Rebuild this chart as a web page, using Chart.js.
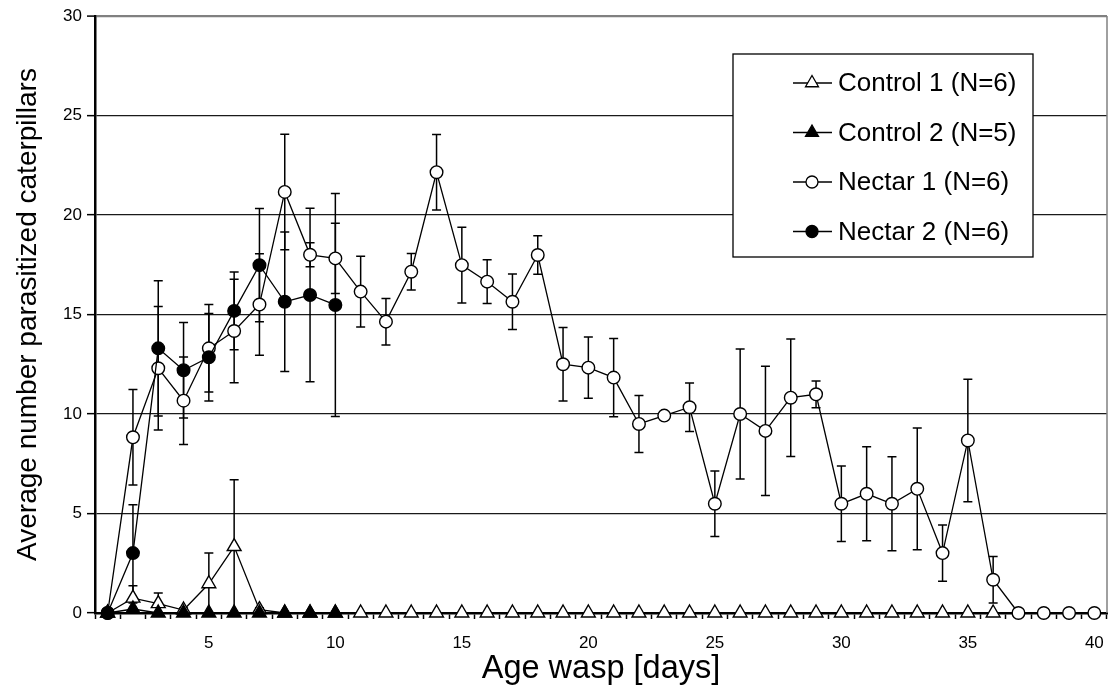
<!DOCTYPE html>
<html>
<head>
<meta charset="utf-8">
<script src="https://cdn.jsdelivr.net/npm/chart.js@4.4.1/dist/chart.umd.min.js"></script>
<style>
  html, body { margin: 0; padding: 0; background: #fff; }
  #wrap { width: 1109px; height: 693px; position: relative; }
</style>
</head>
<body>
<div id="wrap"><canvas id="myChart" width="1109" height="693"></canvas></div>
<script>
// x categories (age in days) and which ones get a label
const days = [1, 2, 3, 4, 5, 6, 7, 8, 9, 10, 11, 12, 13, 14, 15, 16, 17, 18, 19, 20,
  21, 22, 23, 24, 25, 26, 27, 28, 29, 30, 31, 32, 33, 34, 35, 36, 37, 38, 39, 40];
const xTickDays = [5, 10, 15, 20, 25, 30, 35, 40];

const seriesNames = ["Control 1 (N=6)", "Control 2 (N=5)", "Nectar 1 (N=6)", "Nectar 2 (N=6)"];

// means
const control1 = [0, 0.75, 0.47, 0.15, 1.47, 3.34, 0.17, 0, 0, 0, 0, 0, 0, 0, 0, 0, 0, 0, 0, 0,
  0, 0, 0, 0, 0, 0, 0, 0, 0, 0, 0, 0, 0, 0, 0, 0];
const control2 = [0, 0.2, 0, 0, 0, 0, 0, 0, 0, 0];
const nectar1 = [0, 8.83, 12.3, 10.67, 13.3, 14.17, 15.5, 21.16, 18.0, 17.82,
  16.15, 14.64, 17.15, 22.15, 17.48, 16.65, 15.64, 17.99, 12.5, 12.33,
  11.83, 9.5, 9.92, 10.34, 5.49, 10.0, 9.15, 10.82, 10.99, 5.49,
  5.99, 5.49, 6.24, 3.01, 8.67, 1.67, 0, 0, 0, 0];
const nectar2 = [0, 3.01, 13.3, 12.2, 12.85, 15.18, 17.48, 15.64, 15.98, 15.48];

// error bar half lengths
const control1Err = [0, 0.62, 0.53, 0.1, 1.54, 3.35, 0.1, 0, 0, 0, 0, 0, 0, 0, 0, 0, 0, 0, 0, 0,
  0, 0, 0, 0, 0, 0, 0, 0, 0, 0, 0, 0, 0, 0, 0, 0];
const control2Err = [0, 0.3, 0, 0, 0, 0, 0, 0, 0, 0];
const nectar1Err = [0, 2.4, 3.1, 2.2, 2.2, 2.6, 2.55, 2.9, 0.6, 1.76,
  1.78, 1.17, 0.92, 1.9, 1.9, 1.1, 1.4, 0.97, 1.85, 1.54,
  1.97, 1.43, 0, 1.22, 1.64, 3.27, 3.25, 2.95, 0.67, 1.9,
  2.36, 2.36, 3.06, 1.41, 3.08, 1.17, 0, 0, 0, 0];
const nectar2Err = [0, 2.43, 3.4, 2.4, 2.2, 1.95, 2.85, 3.5, 4.36, 5.6];

const FONT = "'Liberation Sans', Arial, sans-serif";

function marker(ctx, style, filled, x, y, r) {
  ctx.beginPath();
  if (style === "triangle") {
    ctx.moveTo(x, y - r);
    ctx.lineTo(x + r * 0.866, y + r * 0.5);
    ctx.lineTo(x - r * 0.866, y + r * 0.5);
    ctx.closePath();
  } else {
    ctx.arc(x, y, r, 0, Math.PI * 2);
  }
  ctx.fillStyle = filled ? "#000" : "#fff";
  ctx.fill();
  ctx.stroke();
}

// error bars under the markers
const errorBars = {
  id: "errorBars",
  beforeDatasetsDraw(chart) {
    const ctx = chart.ctx;
    const yScale = chart.scales.y;
    ctx.save();
    ctx.strokeStyle = "#000";
    ctx.lineWidth = 1.5;
    chart.data.datasets.forEach((ds, i) => {
      const meta = chart.getDatasetMeta(i);
      ds.errors.forEach((e, j) => {
        const pt = meta.data[j];
        if (!pt || !e) return;
        const yTop = yScale.getPixelForValue(ds.data[j] + e);
        const yBot = yScale.getPixelForValue(Math.max(0, ds.data[j] - e));
        ctx.beginPath();
        ctx.moveTo(pt.x, yTop); ctx.lineTo(pt.x, yBot);
        ctx.moveTo(pt.x - 4.5, yTop); ctx.lineTo(pt.x + 4.5, yTop);
        if (ds.data[j] - e > 0) { ctx.moveTo(pt.x - 4.5, yBot); ctx.lineTo(pt.x + 4.5, yBot); }
        ctx.stroke();
      });
    });
    // right frame line
    const a = chart.chartArea;
    ctx.strokeStyle = "#808080";
    ctx.lineWidth = 1.5;
    ctx.beginPath();
    ctx.moveTo(a.right, a.top); ctx.lineTo(a.right, a.bottom);
    ctx.stroke();
    ctx.restore();
  }
};

// boxed legend like the original
const boxLegend = {
  id: "boxLegend",
  afterDraw(chart) {
    const ctx = chart.ctx;
    const a = chart.chartArea;
    const left = a.right - 374, top = a.top + 38, w = 300, h = 203;
    ctx.save();
    ctx.fillStyle = "#fff";
    ctx.fillRect(left, top, w, h);
    ctx.strokeStyle = "#000";
    ctx.lineWidth = 1.3;
    ctx.strokeRect(left, top, w, h);
    ctx.font = "26px " + FONT;
    ctx.textBaseline = "middle";
    chart.data.datasets.forEach((ds, i) => {
      const y = top + 29 + i * 49.5;
      ctx.strokeStyle = "#000";
      ctx.lineWidth = 1.3;
      ctx.beginPath();
      ctx.moveTo(left + 60, y); ctx.lineTo(left + 99, y);
      ctx.stroke();
      marker(ctx, ds.pointStyle, ds.pointBackgroundColor === "#000", left + 79, y,
        ds.pointStyle === "triangle" ? 7.5 : 6);
      ctx.fillStyle = "#000";
      ctx.fillText(seriesNames[i], left + 105, y + 1);
    });
    ctx.restore();
  }
};

function series(label, data, errors, style, filled, order) {
  return {
    label: label,
    data: data,
    errors: errors,
    order: order,
    clip: false,
    borderColor: "#000",
    borderWidth: 1.3,
    tension: 0,
    pointStyle: style,
    pointRadius: style === "triangle" ? 8 : 6.3,
    pointBorderWidth: 1.4,
    pointBorderColor: "#000",
    pointBackgroundColor: filled ? "#000" : "#fff",
    spanGaps: false
  };
}

const config = {
  type: "line",
  data: {
    labels: days,
    datasets: [
      series(seriesNames[0], control1, control1Err, "triangle", false, 4),
      series(seriesNames[1], control2, control2Err, "triangle", true, 3),
      series(seriesNames[2], nectar1, nectar1Err, "circle", false, 2),
      series(seriesNames[3], nectar2, nectar2Err, "circle", true, 1)
    ]
  },
  options: {
    responsive: false,
    animation: false,
    layout: { autoPadding: false, padding: { top: 16, right: 2, left: 0, bottom: 0 } },
    plugins: { legend: { display: false }, tooltip: { enabled: false } },
    scales: {
      x: {
        type: "category",
        offset: true,
        afterFit: s => { s.height = 80; s.paddingLeft = 0; s.paddingRight = 0; },
        border: { color: "#000", width: 2.5 },
        grid: { offset: true, drawOnChartArea: false, drawTicks: true, tickLength: 6, tickColor: "#000", tickWidth: 1.5 },
        ticks: {
          autoSkip: false, maxRotation: 0, padding: 14, color: "#000",
          font: { family: FONT, size: 17 },
          callback: (v, i) => xTickDays.includes(days[i]) ? String(days[i]) : ""
        },
        title: { display: true, text: "Age wasp [days]", color: "#000",
          font: { family: FONT, size: 32.5 }, padding: { top: 4, bottom: 4 } }
      },
      y: {
        min: 0, max: 30,
        afterFit: s => { s.width = 95; },
        border: { color: "#000", width: 2.5 },
        grid: {
          color: c => c.tick.value === 30 ? "#808080" : "#1a1a1a",
          lineWidth: c => c.tick.value === 30 ? 2.2 : 1.3,
          tickLength: 8, tickColor: "#000", tickWidth: 1.5
        },
        ticks: { stepSize: 5, padding: 5, color: "#000", font: { family: FONT, size: 17 } },
        title: { display: true, text: "Average number parasitized caterpillars", color: "#000",
          font: { family: FONT, size: 28 }, padding: { top: 11, bottom: 11 } }
      }
    }
  },
  plugins: [errorBars, boxLegend]
};

const myChart = new Chart(document.getElementById("myChart"), config);
</script>
</body>
</html>
